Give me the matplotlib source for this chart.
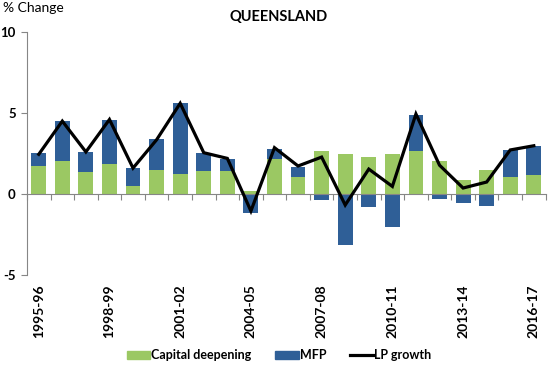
import numpy as np
import matplotlib
matplotlib.use("Agg")
import matplotlib.pyplot as plt
from matplotlib.transforms import blended_transform_factory
from matplotlib.patches import Patch
from matplotlib.lines import Line2D

plt.rcParams['font.family'] = ['Lato', 'DejaVu Sans']

years = ['1995-96', '1996-97', '1997-98', '1998-99', '1999-00', '2000-01',
         '2001-02', '2002-03', '2003-04', '2004-05', '2005-06', '2006-07',
         '2007-08', '2008-09', '2009-10', '2010-11', '2011-12', '2012-13',
         '2013-14', '2014-15', '2015-16', '2016-17']
capital = [1.75, 2.04, 1.36, 1.85, 0.50, 1.48, 1.23, 1.42, 1.42, 0.18, 2.16,
           1.05, 2.65, 2.47, 2.28, 2.47, 2.65, 2.04, 0.86, 1.48, 1.05, 1.17]
mfp = [0.78, 2.46, 1.24, 2.72, 1.10, 1.92, 4.37, 1.11, 0.74, -1.19, 0.62,
       0.62, -0.37, -3.15, -0.78, -2.02, 2.23, -0.29, -0.53, -0.72, 1.67, 1.79]
lp = [2.45, 4.50, 2.60, 4.60, 1.60, 3.35, 5.60, 2.55, 2.20, -1.05, 2.86,
      1.73, 2.28, -0.68, 1.54, 0.47, 4.94, 1.78, 0.37, 0.74, 2.72, 2.98]

green = '#9BC863'
blue = '#2F5F97'
grey = '#868686'

fig = plt.figure(figsize=(5.5, 3.69), dpi=100)
ax = fig.add_axes([0.049, 0.2547, 0.943, 0.6585])

x = np.arange(len(years))
cap = np.array(capital)
mf = np.array(mfp)
# MFP stacks on top of capital when positive, hangs below zero when negative
mfp_base = np.where(mf >= 0, cap, 0)

ax.bar(x, cap, width=0.63, color=green, zorder=2)
ax.bar(x, mf, width=0.63, bottom=mfp_base, color=blue, zorder=2)
ax.plot(x, lp, color='black', lw=2.3, zorder=3, solid_joinstyle='miter')

ax.set_ylim(-5, 10)
ax.set_xlim(-0.5, len(years) - 0.5)
ax.set_yticks([-5, 0, 5, 10])
ax.set_yticklabels(['-5', '0', '5', '10'], fontweight='bold', fontsize=9.5)

for s in ['top', 'right']:
    ax.spines[s].set_visible(False)
ax.spines['left'].set_color(grey)
ax.spines['bottom'].set_color(grey)
ax.spines['bottom'].set_position(('data', 0))
ax.tick_params(axis='y', colors=grey, labelcolor='black', length=4, pad=4)
ax.tick_params(axis='x', colors=grey, length=4, direction='out')
ax.set_xticks(np.arange(len(years) + 1) - 0.5)
ax.set_xticklabels([])

trans = blended_transform_factory(ax.transData, ax.transAxes)
for i in range(0, len(years), 3):
    ax.text(x[i], -0.04, years[i], rotation=90, ha='center', va='top',
            fontsize=10, fontweight='bold', transform=trans)

fig.text(0.005, 0.977, '% Change', fontsize=10, ha='left', va='center')
fig.text(0.506, 0.954, 'QUEENSLAND', fontsize=10.5, fontweight='bold',
         ha='center', va='center')

handles = [Patch(color=green, label='Capital deepening'),
           Patch(color=blue, label='MFP'),
           Line2D([0], [0], color='black', lw=2.3, label='LP growth')]
leg = fig.legend(handles=handles, loc='center', bbox_to_anchor=(0.508, 0.038),
                 ncol=3, frameon=False, handlelength=1.85, handleheight=0.6,
                 handletextpad=0.1, columnspacing=1.9,
                 prop={'weight': 'bold', 'size': 9})

fig.savefig('out.png', dpi=100)
